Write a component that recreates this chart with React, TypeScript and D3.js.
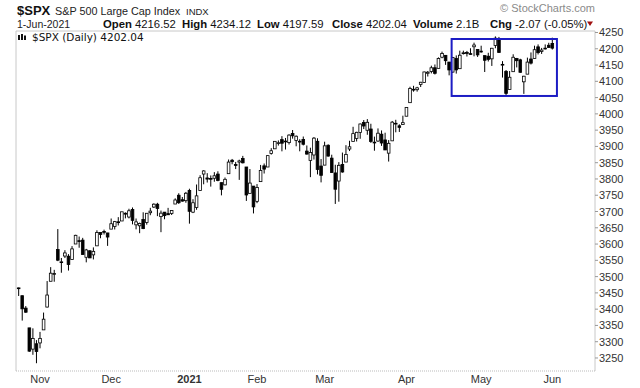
import React from "react";
import * as d3 from "d3";

// daily $SPX candles, 23-Oct-2020 .. 1-Jun-2021
const dates = [
  "2020-10-23","2020-10-26","2020-10-27","2020-10-28","2020-10-29","2020-10-30",
  "2020-11-02","2020-11-03","2020-11-04","2020-11-05","2020-11-06","2020-11-09","2020-11-10","2020-11-11","2020-11-12","2020-11-13",
  "2020-11-16","2020-11-17","2020-11-18","2020-11-19","2020-11-20","2020-11-23","2020-11-24","2020-11-25","2020-11-27","2020-11-30",
  "2020-12-01","2020-12-02","2020-12-03","2020-12-04","2020-12-07","2020-12-08","2020-12-09","2020-12-10","2020-12-11","2020-12-14",
  "2020-12-15","2020-12-16","2020-12-17","2020-12-18","2020-12-21","2020-12-22","2020-12-23","2020-12-24","2020-12-28","2020-12-29",
  "2020-12-30","2020-12-31",
  "2021-01-04","2021-01-05","2021-01-06","2021-01-07","2021-01-08","2021-01-11","2021-01-12","2021-01-13","2021-01-14","2021-01-15",
  "2021-01-19","2021-01-20","2021-01-21","2021-01-22","2021-01-25","2021-01-26","2021-01-27","2021-01-28","2021-01-29",
  "2021-02-01","2021-02-02","2021-02-03","2021-02-04","2021-02-05","2021-02-08","2021-02-09","2021-02-10","2021-02-11","2021-02-12",
  "2021-02-16","2021-02-17","2021-02-18","2021-02-19","2021-02-22","2021-02-23","2021-02-24","2021-02-25","2021-02-26",
  "2021-03-01","2021-03-02","2021-03-03","2021-03-04","2021-03-05","2021-03-08","2021-03-09","2021-03-10","2021-03-11","2021-03-12",
  "2021-03-15","2021-03-16","2021-03-17","2021-03-18","2021-03-19","2021-03-22","2021-03-23","2021-03-24","2021-03-25","2021-03-26",
  "2021-03-29","2021-03-30","2021-03-31",
  "2021-04-01","2021-04-05","2021-04-06","2021-04-07","2021-04-08","2021-04-09","2021-04-12","2021-04-13","2021-04-14","2021-04-15",
  "2021-04-16","2021-04-19","2021-04-20","2021-04-21","2021-04-22","2021-04-23","2021-04-26","2021-04-27","2021-04-28","2021-04-29",
  "2021-04-30",
  "2021-05-03","2021-05-04","2021-05-05","2021-05-06","2021-05-07","2021-05-10","2021-05-11","2021-05-12","2021-05-13","2021-05-14",
  "2021-05-17","2021-05-18","2021-05-19","2021-05-20","2021-05-21","2021-05-24","2021-05-25","2021-05-26","2021-05-27","2021-05-28",
  "2021-06-01",
];

const opens = [
  3464.9,3441.4,3403.2,3342.5,3277.2,3293.6,
  3296.2,3336.3,3406.5,3485.7,3508.3,3583.0,3543.3,3563.2,3562.7,3552.6,
  3600.2,3610.3,3612.1,3559.4,3579.3,3566.8,3594.5,3635.5,3638.6,3634.2,
  3645.9,3653.8,3668.3,3670.9,3694.7,3683.1,3706.0,3659.1,3656.1,3675.3,
  3666.4,3696.3,3713.7,3722.4,3684.3,3698.1,3693.4,3694.0,3723.0,3750.0,
  3736.2,3733.3,
  3764.6,3698.0,3712.2,3764.7,3815.1,3803.1,3801.6,3802.2,3815.0,3788.7,
  3781.9,3816.2,3857.5,3844.2,3851.7,3863.0,3836.8,3755.8,3778.1,
  3731.2,3791.8,3840.3,3836.7,3878.3,3892.6,3910.5,3920.8,3916.4,3911.7,
  3939.6,3918.5,3915.9,3921.2,3885.6,3857.1,3873.7,3915.8,3839.7,
  3842.5,3903.6,3864.0,3818.5,3793.6,3844.4,3851.9,3892.0,3915.5,3924.5,
  3943.0,3973.6,3949.6,3953.5,3913.1,3916.5,3937.6,3919.9,3879.3,3917.1,
  3969.3,3963.3,3967.3,
  3992.8,4034.4,4075.6,4074.3,4090.0,4096.1,4124.7,4130.1,4141.6,4139.8,
  4174.1,4179.8,4159.2,4128.4,4170.5,4138.8,4185.0,4188.3,4185.1,4206.1,
  4198.1,
  4192.0,4179.0,4177.1,4169.1,4210.3,4228.3,4150.3,4130.6,4075.0,4129.6,
  4169.9,4165.9,4098.5,4122.0,4168.6,4170.2,4205.9,4191.6,4201.9,4210.8,
  4216.5,
];

const highs = [
  3466.5,3441.4,3409.5,3342.5,3341.1,3304.9,
  3330.1,3389.5,3486.3,3529.1,3520.8,3646.0,3557.2,3581.2,3569.0,3593.7,
  3628.5,3623.1,3619.1,3585.2,3581.2,3589.8,3642.3,3635.5,3644.3,3634.2,
  3678.5,3671.0,3682.7,3699.2,3697.4,3708.5,3712.4,3678.5,3665.9,3697.6,
  3695.3,3711.3,3725.1,3726.7,3702.9,3698.3,3711.2,3703.8,3740.5,3756.1,
  3744.6,3760.2,
  3770.0,3737.8,3783.0,3811.6,3826.7,3817.9,3810.8,3821.0,3823.6,3788.7,
  3804.5,3859.8,3861.5,3852.3,3859.2,3870.9,3836.8,3830.5,3778.1,
  3784.3,3843.1,3847.5,3872.4,3894.6,3915.8,3918.4,3931.5,3926.0,3937.2,
  3950.4,3933.6,3922.0,3930.4,3902.9,3896.0,3928.7,3925.0,3861.1,
  3914.5,3906.4,3874.5,3843.7,3851.7,3881.1,3903.8,3917.4,3960.3,3945.0,
  3970.1,3981.0,3983.9,3969.6,3930.1,3955.3,3949.1,3942.1,3919.5,3978.2,
  3981.8,3968.0,3994.4,
  4020.6,4083.4,4086.2,4083.1,4098.2,4129.5,4131.8,4148.0,4151.7,4173.5,
  4191.3,4180.8,4159.2,4175.0,4179.6,4194.2,4194.2,4193.4,4201.5,4218.8,
  4198.1,
  4209.4,4179.0,4187.7,4202.7,4238.0,4236.4,4162.0,4134.7,4131.6,4183.1,
  4171.9,4169.2,4116.9,4172.8,4188.7,4209.5,4213.4,4202.6,4213.4,4218.4,
  4234.1,
];

const lows = [
  3440.5,3364.9,3388.7,3268.9,3259.8,3233.9,
  3279.7,3336.3,3405.2,3485.7,3484.3,3547.5,3511.9,3557.0,3518.6,3552.6,
  3600.2,3588.7,3567.3,3543.8,3556.9,3552.8,3594.5,3617.8,3629.3,3594.4,
  3645.9,3644.8,3657.2,3670.9,3678.9,3678.8,3660.5,3645.2,3633.4,3645.8,
  3659.6,3688.6,3710.9,3685.8,3636.5,3676.2,3689.3,3689.3,3723.0,3723.3,
  3730.2,3726.9,
  3662.7,3695.1,3705.3,3764.7,3783.6,3789.0,3776.5,3791.5,3792.9,3749.6,
  3780.4,3816.2,3845.1,3830.4,3797.2,3847.8,3732.5,3755.8,3694.1,
  3725.6,3791.8,3816.7,3836.7,3874.9,3892.6,3902.6,3884.9,3890.4,3905.8,
  3923.9,3900.4,3885.0,3903.1,3874.7,3805.6,3859.6,3814.0,3789.5,
  3842.5,3868.6,3818.9,3723.3,3730.2,3819.3,3851.9,3885.7,3915.5,3915.2,
  3923.5,3953.4,3935.7,3910.9,3886.8,3914.2,3901.6,3889.1,3853.5,3917.1,
  3943.3,3944.4,3967.0,
  3992.8,4034.4,4068.1,4068.3,4082.5,4095.5,4114.8,4124.4,4120.9,4139.8,
  4170.8,4150.5,4118.4,4126.0,4123.7,4138.8,4182.4,4176.2,4181.8,4176.8,
  4174.9,
  4188.0,4128.6,4160.9,4147.3,4201.6,4188.1,4111.5,4056.9,4075.0,4129.6,
  4142.7,4126.0,4061.4,4122.0,4151.7,4170.2,4182.5,4184.1,4197.8,4203.6,
  4197.6,
];

const closes = [
  3465.4,3401.0,3390.7,3271.0,3310.1,3270.0,
  3310.2,3369.2,3443.4,3510.5,3509.4,3550.5,3545.5,3572.7,3537.0,3585.2,
  3626.9,3609.5,3567.8,3581.9,3557.5,3577.6,3635.4,3629.7,3638.4,3621.6,
  3662.5,3669.0,3666.7,3699.1,3692.0,3702.3,3672.8,3668.1,3663.5,3647.5,
  3694.6,3701.2,3722.5,3709.4,3694.9,3687.3,3690.0,3703.1,3735.4,3727.0,
  3732.0,3756.1,
  3700.7,3726.9,3748.1,3803.8,3824.7,3799.6,3801.2,3809.8,3795.5,3768.3,
  3798.9,3851.9,3853.1,3841.5,3855.4,3849.6,3750.8,3787.4,3714.2,
  3773.9,3826.3,3830.2,3871.7,3886.8,3915.6,3911.2,3909.9,3916.4,3934.8,
  3932.6,3931.3,3914.0,3906.7,3876.5,3881.4,3925.4,3829.3,3811.2,
  3901.8,3870.3,3819.7,3768.5,3841.9,3821.4,3875.4,3898.8,3939.3,3943.3,
  3968.9,3962.7,3974.1,3915.5,3913.1,3940.6,3910.5,3889.1,3909.5,3974.5,
  3971.1,3958.6,3972.9,
  4019.9,4077.9,4073.9,4080.0,4097.2,4128.8,4128.0,4141.6,4124.7,4170.4,
  4185.5,4163.3,4134.9,4173.4,4135.0,4180.2,4187.6,4186.7,4183.2,4211.5,
  4181.2,
  4192.7,4164.7,4167.6,4201.6,4232.6,4188.4,4152.1,4063.0,4112.5,4173.9,
  4163.3,4127.8,4115.7,4159.1,4155.9,4197.1,4188.1,4196.0,4200.9,4204.1,
  4202.0,
];

const monthLabels = ["Nov", "Dec", "2021", "Feb", "Mar", "Apr", "May", "Jun"];
const priceTicks = [
  3250, 3300, 3350, 3400, 3450, 3500, 3550, 3600, 3650, 3700, 3750,
  3800, 3850, 3900, 3950, 4000, 4050, 4100, 4150, 4200, 4250,
];

// highlighted range (blue box)
const boxDates = ["2021-04-21", "2021-06-01"];
const boxPrices = [4055, 4230];

const quoteItems = [
  ["Open", "4216.52"],
  ["High", "4234.12"],
  ["Low", "4197.59"],
  ["Close", "4202.04"],
  ["Volume", "2.1B"],
  ["Chg", "-2.07 (-0.05%)"],
];
const quoteX = [103, 182, 257, 332, 413, 490];

const W = 640;
const H = 388;
const plot = { left: 16, right: 595, top: 31, bottom: 371 };
const font = "Arial, 'Liberation Sans', sans-serif";

export default function App() {
  const x = d3.scaleLinear().domain([-0.75, 162]).range([plot.left, plot.right]);
  const y = d3.scaleLinear().domain([3210, 4254.6]).range([plot.bottom, plot.top]);
  const step = x(1) - x(0);
  const bw = step * 0.75;

  // first trading day of each month
  const monthStarts: number[] = [];
  dates.forEach((d, i) => {
    if (i > 0 && d.slice(5, 7) !== dates[i - 1].slice(5, 7)) monthStarts.push(i);
  });

  const bx0 = x(dates.indexOf(boxDates[0])) - step * 0.3;
  const bx1 = x(dates.indexOf(boxDates[1])) + step * 1.3;

  return (
    <svg
      width={W}
      height={H}
      style={{ position: "absolute", left: 0, top: 0, background: "#fff" }}
      fontFamily={font}
    >
      {/* header */}
      <text x={17} y={15} fontSize={13} fontWeight="bold" fill="#111">$SPX</text>
      <text x={55} y={15} fontSize={10.8} fill="#222">S&amp;P 500 Large Cap Index</text>
      <text x={186} y={15} fontSize={9.5} fill="#222">INDX</text>
      <text x={17} y={27.5} fontSize={10.5} fill="#222">1-Jun-2021</text>
      {quoteItems.map(([k, v], i) => (
        <text key={k} x={quoteX[i]} y={27.5} fontSize={11.3} fill="#111">
          <tspan fontWeight="bold">{k}</tspan>
          <tspan> {v}</tspan>
        </text>
      ))}
      <path d="M587,21.5 L593,21.5 L590,26 Z" fill="#a01010" />
      <text x={595} y={12} fontSize={11} fill="#8a8a8a" textAnchor="end">
        © StockCharts.com
      </text>

      {/* frame */}
      <line x1={plot.left} x2={plot.right} y1={plot.top} y2={plot.top} stroke="#c8c8c8" />
      <line x1={plot.left} x2={plot.left} y1={plot.top} y2={plot.bottom} stroke="#c8c8c8" />
      <line x1={plot.right} x2={plot.right} y1={plot.top} y2={plot.bottom} stroke="#c8c8c8" />
      <line
        x1={plot.left}
        x2={plot.right}
        y1={plot.bottom}
        y2={plot.bottom}
        stroke="#bbb"
        strokeDasharray="1,1"
      />

      {/* legend */}
      <g fill="#111">
        <rect x={18} y={35} width={2} height={5} />
        <rect x={21} y={34} width={2} height={6} />
        <rect x={24} y={35.5} width={2} height={4.5} />
      </g>
      <text x={32} y={41} fontSize={10.5} fontFamily="'DejaVu Sans', Verdana, sans-serif" fill="#111">
        $SPX (Daily) 4202.04
      </text>

      {/* price axis */}
      {priceTicks.map((t) => (
        <g key={t}>
          <line x1={plot.right} x2={plot.right + 3} y1={y(t)} y2={y(t)} stroke="#999" />
          <text x={plot.right + 4} y={y(t) + 4} fontSize={11} fill="#333">
            {t}
          </text>
        </g>
      ))}

      {/* month axis */}
      {monthStarts.map((i, k) => (
        <text
          key={i}
          x={x(i)}
          y={383}
          fontSize={11}
          textAnchor="middle"
          fill="#333"
          fontWeight={monthLabels[k] === "2021" ? "bold" : "normal"}
        >
          {monthLabels[k]}
        </text>
      ))}

      {/* candles */}
      <g>
        {dates.map((d, i) => {
          const cx = x(i);
          const up = closes[i] >= opens[i];
          const top = y(Math.max(opens[i], closes[i]));
          const bot = y(Math.min(opens[i], closes[i]));
          return (
            <g key={d}>
              <line x1={cx} x2={cx} y1={y(highs[i])} y2={y(lows[i])} stroke="#000" strokeWidth={1} />
              <rect
                x={cx - bw / 2}
                y={top}
                width={bw}
                height={Math.max(bot - top, 0.8)}
                fill={up ? "#fff" : "#000"}
                stroke="#000"
                strokeWidth={0.8}
              />
            </g>
          );
        })}
      </g>

      {/* annotation box */}
      <rect
        x={bx0}
        y={y(boxPrices[1])}
        width={bx1 - bx0}
        height={y(boxPrices[0]) - y(boxPrices[1])}
        fill="none"
        stroke="#1c1cc4"
        strokeWidth={2}
      />
    </svg>
  );
}
